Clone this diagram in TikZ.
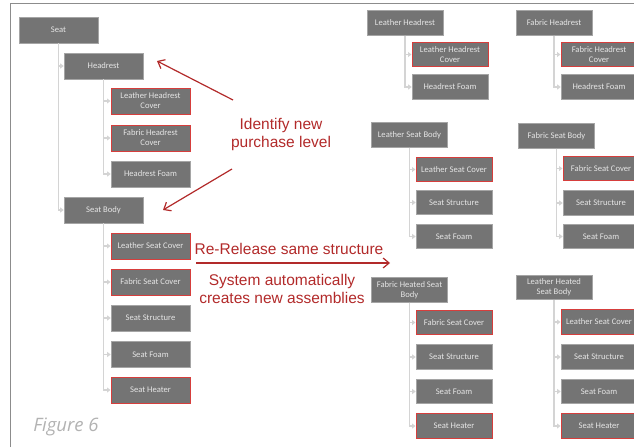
\documentclass[tikz,border=0pt]{standalone}
\usepackage{fontspec}
\setmainfont{Liberation Sans}
\newfontfamily\boxfont{Carlito}
\newfontfamily\capfont{Open Sans}
\usetikzlibrary{arrows.meta}
\definecolor{boxgray}{RGB}{116,116,116}
\definecolor{boxedge}{RGB}{165,165,165}
\definecolor{markred}{RGB}{214,62,60}
\definecolor{notered}{RGB}{178,42,42}
\definecolor{treeline}{RGB}{212,212,212}
\definecolor{framegray}{RGB}{140,140,140}
\tikzset{
	partbox/.style={draw=boxedge, line width=0.6pt, fill=boxgray, text=white!90!black,
		font=\boxfont\fontsize{8.6}{10}\selectfont, minimum width=79pt, minimum height=26pt,
		inner sep=0pt, align=center},
	slimbox/.style={minimum width=76pt, minimum height=24.5pt},
	newbox/.style={draw=markred, line width=1pt},
	treelink/.style={draw=treeline, line width=1.3pt, -{Triangle[length=3.5pt,width=5pt]}},
	notetext/.style={text=notered, font=\fontsize{15.5}{18}\selectfont, align=center},
	notearrow/.style={draw=notered, line width=1.2pt, -{Straight Barb[length=6pt,width=10pt]}}
}

\begin{document}
\begin{tikzpicture}[x=1pt, y=-1pt]
			%%%%% START %%%%%
			\useasboundingbox (0, 0) rectangle (634, 447);
			\clip (0, 0) rectangle (634, 447);
			
			\draw[framegray, line width=1pt] (10, 447) -- (10, 3) -- (634, 3);
			
			%%%%% seat tree
			\node[partbox] (seat) at (58.5, 30) {Seat};
			\node[partbox] (headrest) at (103.5, 66) {Headrest};
			\node[partbox, newbox] (lhcover) at (150.5, 101) {Leather Headrest\\Cover};
			\node[partbox, newbox] (fhcover) at (150.5, 138) {Fabric Headrest\\Cover};
			\node[partbox] (hfoam) at (150.5, 174) {Headrest Foam};
			\node[partbox] (seatbody) at (103.5, 210) {Seat Body};
			\node[partbox, newbox] (lscover) at (150.5, 246) {Leather Seat Cover};
			\node[partbox, newbox] (fscover) at (150.5, 282) {Fabric Seat Cover};
			\node[partbox] (sstruct) at (150.5, 318) {Seat Structure};
			\node[partbox] (sfoam) at (150.5, 354.5) {Seat Foam};
			\node[partbox, newbox] (sheater) at (150.5, 390) {Seat Heater};
			
			\foreach \child in {headrest, seatbody}
				\draw[treelink] (seat.south) |- (\child.west);
			\foreach \child in {lhcover, fhcover, hfoam}
				\draw[treelink] (headrest.south) |- (\child.west);
			\foreach \child in {lscover, fscover, sstruct, sfoam, sheater}
				\draw[treelink] (seatbody.south) |- (\child.west);
			
			%%%%% leather headrest
			\node[partbox, slimbox] (lhead) at (405, 23) {Leather Headrest};
			\node[partbox, slimbox, newbox] (lhead1) at (450, 54.5) {Leather Headrest\\Cover};
			\node[partbox, slimbox] (lhead2) at (450, 87) {Headrest Foam};
			\foreach \child in {lhead1, lhead2}
				\draw[treelink] (lhead.south) |- (\child.west);
			
			%%%%% fabric headrest
			\node[partbox, slimbox] (fhead) at (554, 23) {Fabric Headrest};
			\node[partbox, slimbox, newbox] (fhead1) at (599, 54.5) {Fabric Headrest\\Cover};
			\node[partbox, slimbox] (fhead2) at (599, 87) {Headrest Foam};
			\foreach \child in {fhead1, fhead2}
				\draw[treelink] (fhead.south) |- (\child.west);
			
			%%%%% leather seat body
			\node[partbox, slimbox] (lbody) at (409.5, 135) {Leather Seat Body};
			\node[partbox, slimbox, newbox] (lbody1) at (454, 169.5) {Leather Seat Cover};
			\node[partbox, slimbox] (lbody2) at (454, 202.5) {Seat Structure};
			\node[partbox, slimbox] (lbody3) at (454, 236.5) {Seat Foam};
			\foreach \child in {lbody1, lbody2, lbody3}
				\draw[treelink] (lbody.south) |- (\child.west);
			
			%%%%% fabric seat body
			\node[partbox, slimbox] (fbody) at (556.5, 136) {Fabric Seat Body};
			\node[partbox, slimbox, newbox] (fbody1) at (601, 168.5) {Fabric Seat Cover};
			\node[partbox, slimbox] (fbody2) at (601, 203) {Seat Structure};
			\node[partbox, slimbox] (fbody3) at (601, 236.5) {Seat Foam};
			\foreach \child in {fbody1, fbody2, fbody3}
				\draw[treelink] (fbody.south) |- (\child.west);
			
			%%%%% fabric heated seat body
			\node[partbox, slimbox] (fheat) at (409.5, 290) {Fabric Heated Seat\\Body};
			\node[partbox, slimbox, newbox] (fheat1) at (454, 322.5) {Fabric Seat Cover};
			\node[partbox, slimbox] (fheat2) at (454, 357) {Seat Structure};
			\node[partbox, slimbox] (fheat3) at (454, 391.5) {Seat Foam};
			\node[partbox, slimbox, newbox] (fheat4) at (454, 426) {Seat Heater};
			\foreach \child in {fheat1, fheat2, fheat3, fheat4}
				\draw[treelink] (fheat.south) |- (\child.west);
			
			%%%%% leather heated seat body
			\node[partbox, slimbox] (lheat) at (554, 287.5) {Leather Heated\\Seat Body};
			\node[partbox, slimbox, newbox] (lheat1) at (599, 322) {Leather Seat Cover};
			\node[partbox, slimbox] (lheat2) at (599, 357) {Seat Structure};
			\node[partbox, slimbox] (lheat3) at (599, 391.5) {Seat Foam};
			\node[partbox, slimbox, newbox] (lheat4) at (599, 426) {Seat Heater};
			\foreach \child in {lheat1, lheat2, lheat3, lheat4}
				\draw[treelink] (lheat.south) |- (\child.west);
			
			%%%%% notes
			\node[notetext] (identify) at (281, 134) {Identify new\\purchase level};
			\coordinate (idtop) at (233, 100);
			\coordinate (idbottom) at (232, 169);
			\coordinate (headtip) at (157, 61);
			\coordinate (bodytip) at (163, 210);
			\draw[notearrow] (idtop) -- (headtip);
			\draw[notearrow] (idbottom) -- (bodytip);
			
			\node[notetext] (rerelease) at (289, 249) {Re-Release same structure};
			\coordinate (relstart) at (196, 263);
			\coordinate (relend) at (390, 263);
			\draw[notearrow] (relstart) -- (relend);
			\node[notetext] (system) at (282, 289) {System automatically\\creates new assemblies};
			
			\node[text=gray!60, font=\capfont\itshape\fontsize{18.5}{22}\selectfont] (figlabel) at (66, 427) {Figure 6};
			
			%%%%% END %%%%%
\end{tikzpicture}
\end{document}
